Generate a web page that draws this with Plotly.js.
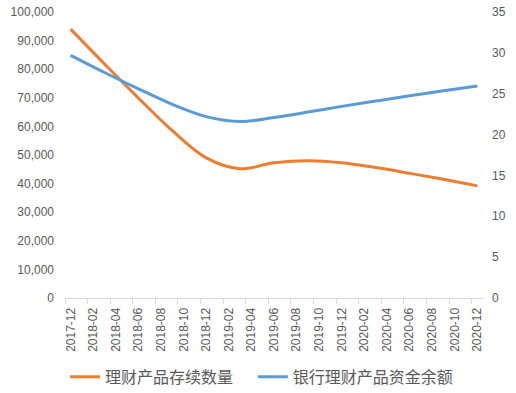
<!DOCTYPE html>
<html>
<head>
<meta charset="utf-8">
<script src="https://cdn.plot.ly/plotly-3.0.1.min.js"></script>
<style>
html,body{margin:0;padding:0;background:#fff;}
#chart{width:516px;height:393px;}
</style>
</head>
<body>
<div id="chart"></div>
<script>
// Tick labels (every 2 months on a monthly category axis)
const tickLabels = ['2017-12','2018-02','2018-04','2018-06','2018-08','2018-10','2018-12',
  '2019-02','2019-04','2019-06','2019-08','2019-10','2019-12',
  '2020-02','2020-04','2020-06','2020-08','2020-10','2020-12'];
// Sample months
const dataMonths = ['2017-12','2018-03','2018-06','2018-09','2018-12','2019-03','2019-06',
  '2019-09','2019-12','2020-03','2020-06','2020-09','2020-12'];
// 理财产品存续数量 (left axis)
const countValues = [94000, 81800, 69900, 58500, 49000, 45200, 47300, 48000, 47300, 45600, 43600, 41500, 39200];
// 银行理财产品资金余额 (right axis)
const balanceValues = [29.7, 27.6, 25.6, 23.7, 22.2, 21.6, 22.1, 22.75, 23.45, 24.1, 24.75, 25.35, 25.95];

const name1 = '理财产品存续数量';
const name2 = '银行理财产品资金余额';

function monthIndex(s){
  const [y,m] = s.split('-').map(Number);
  return (y-2017)*12 + (m-12);
}
const xs = dataMonths.map(monthIndex);
const tickVals = tickLabels.map(monthIndex);
const minorVals = tickVals.map(v => v - 0.5).filter(v => v < 36);

const labelFont = {family:'Liberation Sans, Arial, sans-serif', size:12, color:'#595959'};
const legendFont = {family:'Noto Sans CJK SC, sans-serif', size:16, color:'#595959'};

const traces = [
  {x: xs, y: countValues, name: name1, type:'scatter', mode:'lines', legend:'legend',
   line:{color:'#ED7D31', width:3, shape:'spline', smoothing:1}, yaxis:'y'},
  {x: xs, y: balanceValues, name: name2, type:'scatter', mode:'lines', legend:'legend2',
   line:{color:'#5B9BD5', width:3, shape:'spline', smoothing:1}, yaxis:'y2'}
];

const layout = {
  width:516, height:393,
  margin:{l:65, r:33, t:12, b:95, autoexpand:false},
  paper_bgcolor:'#fff', plot_bgcolor:'#fff',
  showlegend:true,
  legend:{orientation:'h', xref:'container', yref:'container', x:0.126, xanchor:'left', y:0.041, yanchor:'middle',
    font:legendFont, itemwidth:30},
  legend2:{orientation:'h', xref:'container', yref:'container', x:0.490, xanchor:'left', y:0.041, yanchor:'middle',
    font:legendFont, itemwidth:30},
  xaxis:{
    automargin:false,
    range:[-0.5, 36.5], tickmode:'array', tickvals:tickVals, ticktext:tickLabels,
    tickangle:-90, ticks:'', showgrid:false, zeroline:false,
    showline:true, linecolor:'#d9d9d9', linewidth:1,
    tickfont:labelFont, ticklabelstandoff:4,
    minor:{tickmode:'array', tickvals:minorVals, ticks:'outside', ticklen:5, tickcolor:'#d9d9d9', showgrid:false}
  },
  yaxis:{
    automargin:false,
    range:[0,100000], tickmode:'linear', tick0:0, dtick:10000, tickformat:',d',
    showgrid:false, zeroline:false, showline:false, ticks:'',
    tickfont:labelFont, ticklabelstandoff:10
  },
  yaxis2:{
    automargin:false,
    range:[0,35], tickmode:'linear', tick0:0, dtick:5, overlaying:'y', side:'right',
    showgrid:false, zeroline:false, showline:false, ticks:'',
    tickfont:labelFont, ticklabelstandoff:8
  }
};

Plotly.newPlot('chart', traces, layout, {displayModeBar:false, staticPlot:true});
</script>
</body>
</html>
